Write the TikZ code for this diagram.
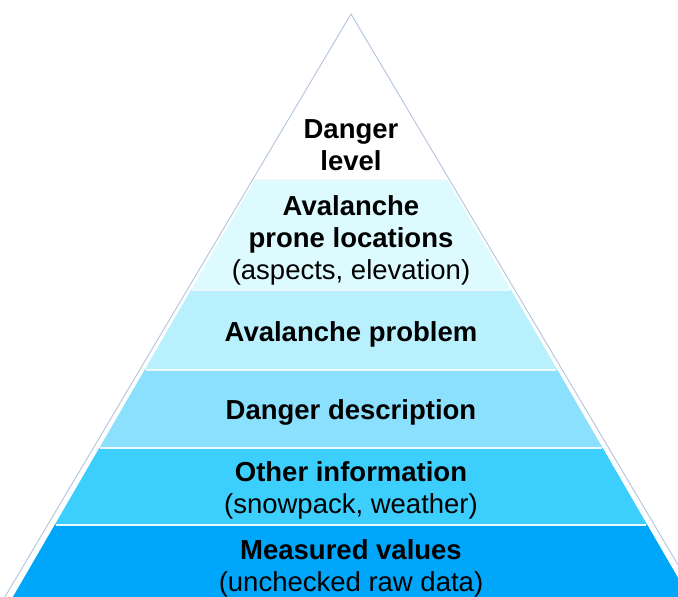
\documentclass[tikz,border=0pt]{standalone}
\usepackage{fontspec}
\setmainfont{Liberation Sans}
\definecolor{bandA}{RGB}{255,255,255}
\definecolor{bandB}{RGB}{221,251,255}
\definecolor{bandC}{RGB}{184,240,253}
\definecolor{bandD}{RGB}{138,224,253}
\definecolor{bandE}{RGB}{60,207,253}
\definecolor{bandF}{RGB}{0,166,250}
\definecolor{edgec}{RGB}{178,196,220}
\begin{document}
\begin{tikzpicture}[x=1pt,y=1pt,
  lbl/.style={align=center,font=\fontsize{27.5}{32}\selectfont,text=black,inner sep=0pt},
  sep/.style={draw=white!92!cyan,line width=1.6pt}]
\useasboundingbox (0,0) rectangle (678,597);
\begin{scope}
\clip (0,0) rectangle (678,597);
% helper: image y -> tikz y = 597 - y ; edge x = 351 -/+ 0.58*(y-14)
\def\band#1#2#3{%
  \pgfmathsetmacro\ya{597-#1}\pgfmathsetmacro\yb{597-#2}%
  \pgfmathsetmacro\la{351-0.58*(#1-14)}\pgfmathsetmacro\ra{351+0.58*(#1-14)}%
  \pgfmathsetmacro\lb{351-0.58*(#2-14)}\pgfmathsetmacro\rb{351+0.58*(#2-14)}%
  \fill[#3] (\la,\ya) -- (\ra,\ya) -- (\rb,\yb) -- (\lb,\yb) -- cycle;}
\fill[bandA] (351,583) -- (351+0.58*166,417) -- (351-0.58*166,417) -- cycle;
\band{180}{290}{bandB}
\band{290}{370}{bandC}
\band{370}{448}{bandD}
\band{448}{525}{bandE}
\band{525}{620}{bandF}
\draw[edgec,line width=0.9pt] (351-0.58*606,-9) -- (351,583) -- (351+0.58*606,-9);
\foreach \yy in {180,290,370,448,525}{
  \pgfmathsetmacro\yt{597-\yy}
  \pgfmathsetmacro\xl{351-0.58*(\yy-14)}
  \pgfmathsetmacro\xr{351+0.58*(\yy-14)}
  \draw[sep] (\xl+1,\yt) -- (\xr-1,\yt);
}
\end{scope}
\node[lbl] (t1) at (351,597-145) {\textbf{Danger}\\\textbf{level}};
\node[lbl] (t2) at (351,597-240.5) {\textbf{Avalanche}\\\textbf{prone locations}\\(aspects, elevation)};
\node[lbl] (t3) at (351,597-334) {\textbf{Avalanche problem}};
\node[lbl] (t4) at (351,597-412) {\textbf{Danger description}};
\node[lbl] (t5) at (351,597-490) {\textbf{Other information}\\(snowpack, weather)};
\node[lbl] (t6) at (351,597-568.5) {\textbf{Measured values}\\(unchecked raw data)};
\end{tikzpicture}
\end{document}
